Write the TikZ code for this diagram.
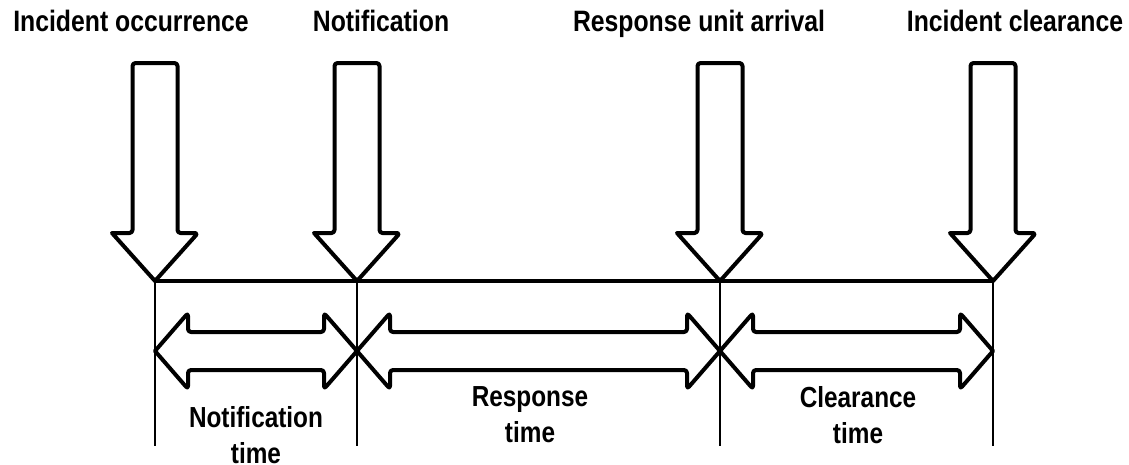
\documentclass[tikz,border=0pt]{standalone}
\usepackage{fontspec}
\setmainfont{Liberation Sans}[FakeStretch=0.84]
\usetikzlibrary{calc}
\begin{document}
\begin{tikzpicture}[x=1pt,y=-1pt,
  outl/.style={draw=black,line width=4pt,line join=round,fill=white,rounded corners=3pt},
  tline/.style={draw=black,line width=2pt},
  hline/.style={draw=black,line width=4pt},
  toplbl/.style={font=\bfseries\fontsize{29.5}{32}\selectfont,anchor=base,inner sep=0pt},
  botlbl/.style={font=\bfseries\fontsize{29}{36}\selectfont,align=center,anchor=north,inner sep=0pt}]
\useasboundingbox (0,0) rectangle (1129,464);
% timeline points
\coordinate (t1) at (155,281);
\coordinate (t2) at (357,281);
\coordinate (t3) at (720,281);
\coordinate (t4) at (993,281);
\coordinate (b1) at (155,446);
\coordinate (b2) at (357,446);
\coordinate (b3) at (720,446);
\coordinate (b4) at (993,446);
% vertical lines
\foreach \i in {1,2,3,4} \draw[tline] (t\i) -- (b\i);
% down arrows
\foreach \i in {1,2,3,4}
  \path[outl] (t\i) ++(-43,-48) -- ++(20.5,0) -- ++(0,-170) -- ++(45,0) -- ++(0,170) -- ++(20.5,0) [sharp corners] -- (t\i) -- cycle;
% horizontal line
\draw[hline] (t1) -- (t4);
% double arrows
\foreach \a/\b in {1/2,2/3,3/4}{
  \coordinate (m\a) at ($(t\a)+(0,70)$);
  \coordinate (n\a) at ($(t\b)+(0,70)$);
  \path[outl] (m\a) [rounded corners=3pt] -- ++(33,-38) -- ++(0,19) -| ($(n\a)+(-33,-38)$) [sharp corners] -- (n\a) [rounded corners=3pt] -- ++(-33,38) -- ++(0,-19) -| ($(m\a)+(33,38)$) [sharp corners] -- cycle;
}
% top labels
\node[toplbl] (l1) at (131,31) {Incident occurrence};
\node[toplbl] (l2) at (381,31) {Notification};
\node[toplbl] (l3) at (699,31) {Response unit arrival};
\node[toplbl] (l4) at (1015,31) {Incident clearance};
% bottom labels
\node[botlbl] (d1) at (256,406) {Notification\\time};
\node[botlbl] (d2) at (530,386) {Response\\time};
\node[botlbl] (d3) at (858,386) {Clearance\\time};
\end{tikzpicture}
\end{document}
